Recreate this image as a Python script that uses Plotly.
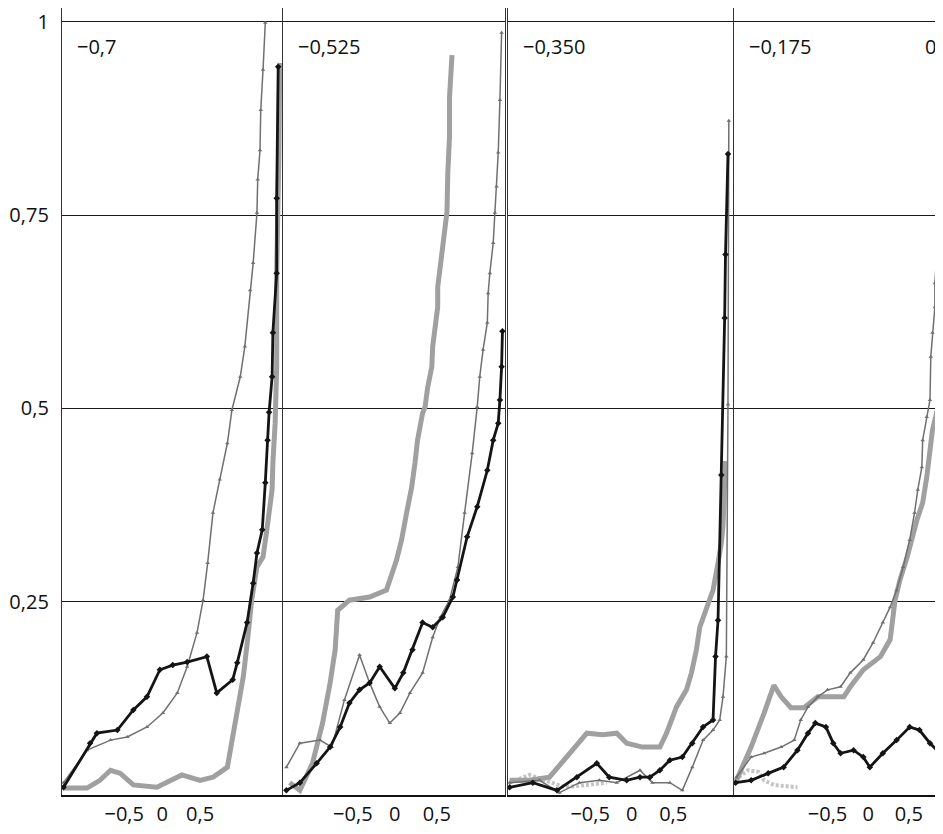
import plotly.graph_objects as go

# ---------------- data ----------------
panel_titles = ["\u22120,7", "\u22120,525", "\u22120,350", "\u22120,175"]
next_panel_title = "0"
x_tick_vals = [-0.5, 0, 0.5]
x_tick_text = ["\u22120,5", "0", "0,5"]
y_tick_vals = [0.25, 0.5, 0.75, 1]
y_tick_text = ["0,25", "0,5", "0,75", "1"]

# panel 1 (-0,7)
p1_black_x = [-1.30, -0.95, -0.86, -0.59, -0.38, -0.20, -0.03, 0.14, 0.33, 0.59, 0.72, 0.93, 0.99, 1.12, 1.20, 1.25, 1.32, 1.36, 1.39, 1.41, 1.45, 1.46, 1.51, 1.51, 1.53]
p1_black_y = [0.010, 0.067, 0.080, 0.084, 0.110, 0.127, 0.162, 0.168, 0.172, 0.179, 0.132, 0.149, 0.171, 0.223, 0.274, 0.313, 0.343, 0.404, 0.459, 0.495, 0.541, 0.598, 0.675, 0.772, 0.942]
p1_grey_x = [-1.30, -0.99, -0.68, -0.46, -0.20, 0.01, 0.20, 0.33, 0.46, 0.54, 0.60, 0.67, 0.76, 0.86, 0.92, 1.03, 1.09, 1.16, 1.20, 1.25, 1.26, 1.29, 1.30, 1.33, 1.36]
p1_grey_y = [0.016, 0.058, 0.071, 0.075, 0.088, 0.106, 0.132, 0.166, 0.210, 0.252, 0.300, 0.365, 0.408, 0.455, 0.498, 0.541, 0.580, 0.653, 0.688, 0.753, 0.796, 0.834, 0.886, 0.938, 0.999]
p1_light_x = [-1.30, -0.99, -0.82, -0.68, -0.55, -0.38, -0.07, 0.11, 0.26, 0.50, 0.67, 0.86, 0.93, 1.03, 1.07, 1.13, 1.18, 1.25, 1.33, 1.38, 1.45, 1.46, 1.49, 1.51, 1.51, 1.54, 1.55]
p1_light_y = [0.009, 0.009, 0.019, 0.032, 0.028, 0.013, 0.010, 0.019, 0.026, 0.019, 0.023, 0.036, 0.075, 0.123, 0.153, 0.204, 0.252, 0.295, 0.308, 0.343, 0.395, 0.430, 0.481, 0.554, 0.675, 0.834, 0.947]

# panel 2 (-0,525)
p2_black_x = [-1.29, -1.13, -0.93, -0.77, -0.65, -0.54, -0.42, -0.30, -0.18, 0.00, 0.10, 0.21, 0.33, 0.45, 0.57, 0.69, 0.74, 0.86, 0.98, 1.10, 1.17, 1.23, 1.25, 1.27, 1.28]
p2_black_y = [0.006, 0.016, 0.041, 0.062, 0.088, 0.119, 0.136, 0.145, 0.166, 0.138, 0.158, 0.188, 0.223, 0.217, 0.230, 0.256, 0.278, 0.334, 0.373, 0.420, 0.459, 0.481, 0.511, 0.554, 0.600]
p2_grey_x = [-1.29, -1.13, -0.89, -0.75, -0.60, -0.42, -0.30, -0.18, -0.06, 0.06, 0.18, 0.33, 0.45, 0.54, 0.65, 0.75, 0.83, 0.92, 0.98, 1.01, 1.05, 1.10, 1.11, 1.13, 1.17, 1.19, 1.21, 1.23, 1.25, 1.27]
p2_grey_y = [0.036, 0.067, 0.071, 0.062, 0.123, 0.181, 0.145, 0.114, 0.093, 0.106, 0.132, 0.158, 0.204, 0.230, 0.252, 0.295, 0.365, 0.442, 0.502, 0.541, 0.576, 0.611, 0.649, 0.675, 0.714, 0.753, 0.787, 0.831, 0.899, 0.986]
p2_light_x = [-1.25, -1.13, -0.98, -0.86, -0.77, -0.71, -0.68, -0.54, -0.30, -0.10, 0.02, 0.08, 0.14, 0.20, 0.24, 0.27, 0.33, 0.36, 0.39, 0.44, 0.45, 0.48, 0.51, 0.51, 0.54, 0.56, 0.62, 0.63, 0.65, 0.65, 0.68]
p2_light_y = [0.016, 0.006, 0.041, 0.093, 0.145, 0.188, 0.239, 0.252, 0.256, 0.265, 0.304, 0.330, 0.365, 0.398, 0.430, 0.459, 0.494, 0.502, 0.527, 0.554, 0.580, 0.604, 0.631, 0.657, 0.683, 0.709, 0.754, 0.805, 0.851, 0.902, 0.957]

# panel 3 (-0,350)
p3_black_x = [-1.47, -1.19, -0.90, -0.66, -0.42, -0.27, -0.06, 0.10, 0.22, 0.34, 0.46, 0.61, 0.73, 0.86, 0.98, 1.01, 1.04, 1.08, 1.12, 1.13, 1.16]
p3_black_y = [0.010, 0.016, 0.006, 0.023, 0.041, 0.023, 0.019, 0.023, 0.023, 0.032, 0.045, 0.049, 0.067, 0.088, 0.097, 0.179, 0.226, 0.414, 0.617, 0.699, 0.829]
p3_grey_x = [-1.47, -1.11, -0.87, -0.63, -0.39, -0.18, 0.10, 0.25, 0.46, 0.61, 0.73, 0.86, 0.98, 1.06, 1.10, 1.14, 1.16, 1.17]
p3_grey_y = [0.016, 0.019, 0.003, 0.016, 0.019, 0.016, 0.032, 0.016, 0.016, 0.006, 0.036, 0.071, 0.084, 0.097, 0.127, 0.179, 0.505, 0.872]
p3_light_x = [-1.47, -1.23, -0.99, -0.78, -0.54, -0.35, -0.18, -0.06, 0.13, 0.34, 0.42, 0.54, 0.66, 0.72, 0.78, 0.82, 0.90, 0.98, 1.04, 1.08, 1.10, 1.11, 1.13]
p3_light_y = [0.019, 0.019, 0.023, 0.049, 0.080, 0.078, 0.080, 0.067, 0.062, 0.062, 0.080, 0.114, 0.136, 0.158, 0.188, 0.217, 0.239, 0.265, 0.300, 0.326, 0.349, 0.387, 0.432]
p3_faint_x = [-1.47, -1.23, -1.05, -0.80, -0.54, -0.30]
p3_faint_y = [0.016, 0.026, 0.019, 0.010, 0.013, 0.016]

# panel 4 (-0,175)
p4_black_x = [-1.63, -1.44, -1.23, -1.04, -0.87, -0.74, -0.65, -0.52, -0.43, -0.34, -0.18, -0.06, 0.02, 0.18, 0.35, 0.51, 0.63, 0.76, 0.88, 0.91]
p4_black_y = [0.016, 0.019, 0.028, 0.036, 0.058, 0.080, 0.093, 0.088, 0.067, 0.054, 0.058, 0.049, 0.036, 0.054, 0.071, 0.088, 0.084, 0.067, 0.054, 0.071]
p4_grey_x = [-1.62, -1.44, -1.28, -1.07, -0.91, -0.83, -0.74, -0.62, -0.50, -0.34, -0.22, -0.06, 0.06, 0.18, 0.27, 0.35, 0.43, 0.51, 0.57, 0.61, 0.66, 0.67, 0.72, 0.76, 0.77, 0.79, 0.82, 0.82, 0.85, 0.88, 0.90, 0.91]
p4_grey_y = [0.023, 0.049, 0.054, 0.062, 0.071, 0.097, 0.114, 0.127, 0.136, 0.140, 0.158, 0.175, 0.197, 0.223, 0.243, 0.265, 0.295, 0.330, 0.365, 0.395, 0.424, 0.459, 0.489, 0.511, 0.567, 0.598, 0.631, 0.662, 0.718, 0.757, 0.847, 0.925]
p4_light_x = [-1.62, -1.44, -1.28, -1.16, -1.07, -0.95, -0.79, -0.62, -0.46, -0.30, -0.22, -0.06, 0.15, 0.27, 0.30, 0.33, 0.39, 0.48, 0.60, 0.67, 0.72, 0.76, 0.79, 0.84, 0.88, 0.90]
p4_light_y = [0.019, 0.062, 0.106, 0.142, 0.127, 0.113, 0.113, 0.127, 0.127, 0.127, 0.140, 0.162, 0.179, 0.201, 0.226, 0.252, 0.278, 0.308, 0.356, 0.378, 0.411, 0.442, 0.472, 0.494, 0.507, 0.640]
p4_faint_x = [-1.64, -1.48, -1.35, -1.28, -1.16, -0.87]
p4_faint_y = [0.019, 0.032, 0.030, 0.019, 0.013, 0.010]

panels = [
    dict(black=(p1_black_x, p1_black_y), grey=(p1_grey_x, p1_grey_y), light=(p1_light_x, p1_light_y), faint=None),
    dict(black=(p2_black_x, p2_black_y), grey=(p2_grey_x, p2_grey_y), light=(p2_light_x, p2_light_y), faint=None),
    dict(black=(p3_black_x, p3_black_y), grey=(p3_grey_x, p3_grey_y), light=(p3_light_x, p3_light_y), faint=(p3_faint_x, p3_faint_y)),
    dict(black=(p4_black_x, p4_black_y), grey=(p4_grey_x, p4_grey_y), light=(p4_light_x, p4_light_y), faint=(p4_faint_x, p4_faint_y)),
]

# ---------------- layout ----------------
# the page body has an 8px margin, so the figure is sized/shifted to compensate
W, H = 935, 826
ML, MR, MT, MB = 54, 0, 0, 39
domains = [[0.0, 0.2497], [0.2509, 0.5028], [0.5062, 0.7616], [0.7628, 1.0]]
x_ranges = [[-1.32, 1.58], [-1.33, 1.31], [-1.49, 1.22], [-1.65, 0.92]]
FONT = "Open Sans, Lato, DejaVu Sans, sans-serif"
FS = 20

fig = go.Figure()

for i, p in enumerate(panels):
    xa = "x" if i == 0 else f"x{i+1}"
    ya = "y" if i == 0 else f"y{i+1}"
    if p["faint"] is not None:
        fig.add_trace(go.Scatter(x=p["faint"][0], y=p["faint"][1], xaxis=xa, yaxis=ya,
                                 mode="lines", line=dict(color="#c4c4c4", width=4, dash="3px,2px"),
                                 showlegend=False, hoverinfo="skip"))
    fig.add_trace(go.Scatter(x=p["light"][0], y=p["light"][1], xaxis=xa, yaxis=ya,
                             mode="lines", line=dict(color="#a0a0a0", width=5),
                             showlegend=False))
    fig.add_trace(go.Scatter(x=p["grey"][0], y=p["grey"][1], xaxis=xa, yaxis=ya,
                             mode="lines+markers", line=dict(color="#707070", width=1.5),
                             marker=dict(symbol="triangle-up", size=4, color="#707070"),
                             showlegend=False))
    fig.add_trace(go.Scatter(x=p["black"][0], y=p["black"][1], xaxis=xa, yaxis=ya,
                             mode="lines+markers", line=dict(color="#141414", width=2.8),
                             marker=dict(symbol="diamond", size=5, color="#141414"),
                             showlegend=False))

axis_common_x = dict(showgrid=False, zeroline=False, showline=True, linecolor="#111", linewidth=1.6,
                     tickmode="array", tickvals=x_tick_vals, ticktext=x_tick_text,
                     ticks="", automargin=False, ticklabeloverflow="allow",
                     tickfont=dict(family=FONT, size=FS, color="#111"), fixedrange=True)
axis_common_y = dict(range=[0, 1.018], showgrid=True, gridcolor="#1a1a1a", gridwidth=1.3, zeroline=False,
                     showline=True, mirror=True, linecolor="#333", linewidth=1.3,
                     tickmode="array", tickvals=y_tick_vals, ticktext=y_tick_text,
                     ticks="outside", ticklen=8, tickcolor="rgba(0,0,0,0)", automargin=False,
                     ticklabeloverflow="allow",
                     tickfont=dict(family=FONT, size=FS, color="#111"), fixedrange=True)

layout_axes = {}
for i in range(4):
    xk = "xaxis" if i == 0 else f"xaxis{i+1}"
    yk = "yaxis" if i == 0 else f"yaxis{i+1}"
    ya_name = "y" if i == 0 else f"y{i+1}"
    xa_name = "x" if i == 0 else f"x{i+1}"
    layout_axes[xk] = dict(axis_common_x, domain=domains[i], range=x_ranges[i], anchor=ya_name)
    layout_axes[yk] = dict(axis_common_y, domain=[0, 1], anchor=xa_name, showticklabels=(i == 0))

annotations = []
for i, t in enumerate(panel_titles):
    xa_name = "x" if i == 0 else f"x{i+1}"
    ya_name = "y" if i == 0 else f"y{i+1}"
    annotations.append(dict(text=t, xref=f"{xa_name} domain", yref=ya_name, x=0, y=0.968,
                            xanchor="left", yanchor="middle", xshift=13, showarrow=False,
                            font=dict(family=FONT, size=FS, color="#111")))
annotations.append(dict(text=next_panel_title, xref="paper", yref="y4", x=0.986, y=0.968,
                        xanchor="center", yanchor="middle", showarrow=False,
                        font=dict(family=FONT, size=FS, color="#111")))

fig.update_layout(width=W, height=H, margin=dict(l=ML, r=MR, t=MT, b=MB),
                  paper_bgcolor="white", plot_bgcolor="white", showlegend=False,
                  annotations=annotations, **layout_axes)

fig.write_html("out.html")
